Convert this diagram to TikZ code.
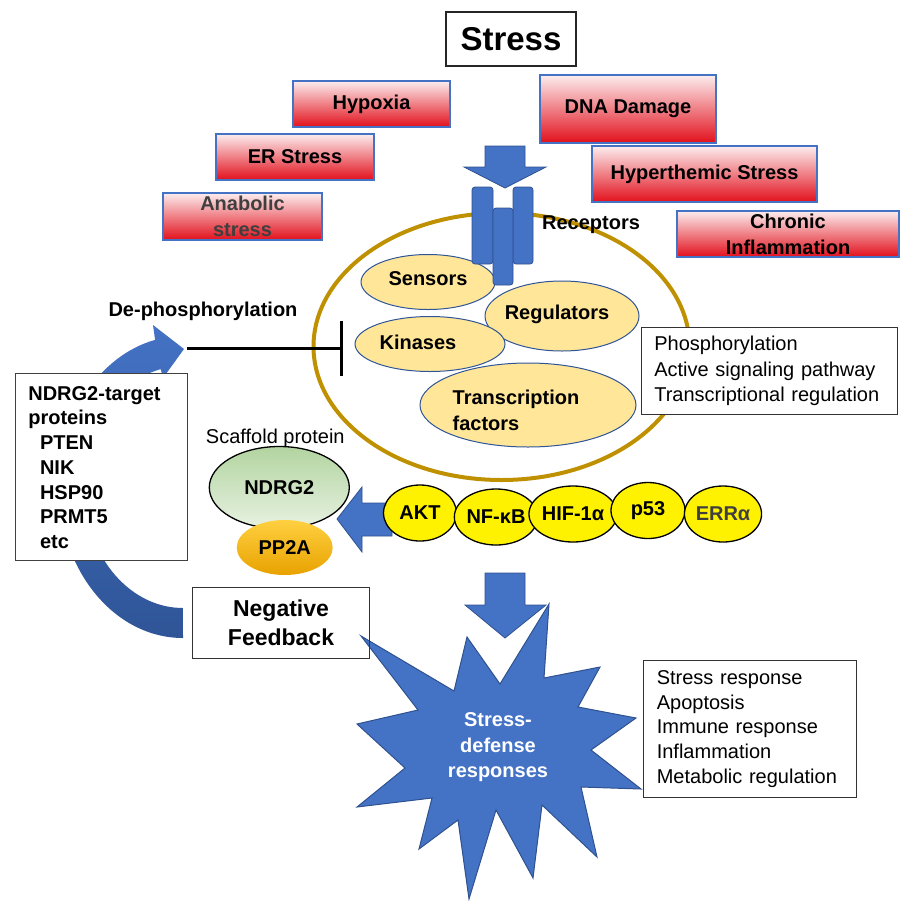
\documentclass[tikz,border=0pt]{standalone}
\usepackage{fontspec}
\setmainfont{Liberation Sans}
\usetikzlibrary{shapes.geometric,arrows.meta}
\definecolor{blueA}{HTML}{4472C4}
\definecolor{blueB}{HTML}{2F528F}
\definecolor{blueC}{HTML}{2F5597}
\definecolor{goldO}{HTML}{BF9000}
\definecolor{ellF}{HTML}{FFE699}
\definecolor{ellB}{HTML}{2F5597}
\definecolor{redT}{HTML}{FCEDEE}
\definecolor{redB}{HTML}{E2101C}
\definecolor{greyT}{HTML}{3F3F3F}
\definecolor{grnT}{HTML}{B2D4A0}
\definecolor{grnB}{HTML}{E8F2E2}
\definecolor{ppT}{HTML}{FFD040}
\definecolor{ppB}{HTML}{E8A200}
\begin{document}
\begin{tikzpicture}[x=1pt,y=-1pt,
  bf/.style={font=\fontsize{20}{24}\selectfont\bfseries},
  rg/.style={font=\fontsize{20}{24}\selectfont},
  redbox/.style={rectangle, draw=blueA, line width=1.2pt, top color=redT, bottom color=redB, inner sep=0pt, align=center, font=\fontsize{20}{26}\selectfont\bfseries},
  cellpart/.style={ellipse, draw=ellB, line width=1pt, fill=ellF, inner sep=0pt},
  yel/.style={ellipse, draw=black, line width=1.3pt, fill=yellow, inner sep=0pt, minimum width=74pt, minimum height=56pt, font=\fontsize{20}{24}\selectfont\bfseries},
  txtbox/.style={rectangle, draw=black!80, line width=1pt, fill=white, inner sep=0pt, align=left, font=\fontsize{20}{25.5}\selectfont},
  blockarrow/.style={fill=blueA, draw=blueB, line width=0.8pt},
  recbar/.style={rectangle, fill=blueA, draw=blueB, line width=0.8pt, rounded corners=3pt, inner sep=0pt},
]
\useasboundingbox (0,0) rectangle (901,900);

% title and stress sources
\node[draw=black!85, line width=1.2pt, minimum width=130pt, minimum height=54pt, inner sep=0pt, font=\fontsize{33}{36}\selectfont\bfseries] (stress) at (511,39) {Stress};
\node[redbox, minimum width=157pt, minimum height=46pt] (hyp) at (371.5,104) {Hypoxia};
\node[redbox, minimum width=158pt, minimum height=46pt] (ers) at (295,157) {ER Stress};
\node[redbox, minimum width=159pt, minimum height=47pt, text=greyT] (ana) at (242.5,216.5) {Anabolic\\stress};
\node[redbox, minimum width=176pt, minimum height=68pt] (dna) at (628,109) {DNA Damage};
\node[redbox, minimum width=225pt, minimum height=56pt] (hyt) at (704.5,174) {Hyperthemic Stress};
\node[redbox, minimum width=222pt, minimum height=46pt] (chr) at (788,234) {Chronic\\Inflammation};

% arrow into receptors
\draw[blockarrow] (485,146) -- (525,146) -- (525,167) -- (546,167) -- (505,188) -- (464,167) -- (485,167) -- cycle;

% cell
\node[ellipse, draw=goldO, line width=4pt, minimum width=376pt, minimum height=267pt, inner sep=0pt] (cell) at (501.5,346.5) {};
\node[cellpart, minimum width=134pt, minimum height=55pt] (sens) at (428,282) {};
\node[cellpart, minimum width=154pt, minimum height=70pt] (regu) at (562,316) {};
\node[cellpart, minimum width=150pt, minimum height=55pt] (kina) at (430,344) {};
\node[cellpart, minimum width=216pt, minimum height=84pt] (tfc) at (528,405) {};
\node[bf] (sensT) at (428,279) {Sensors};
\node[bf] (reguT) at (557,314) {Regulators};
\node[bf] (kinaT) at (418,342) {Kinases};
\node[align=left, font=\fontsize{20}{26}\selectfont\bfseries] (tfT) at (516,410) {Transcription\\factors};

% receptors
\node[recbar, minimum width=21pt, minimum height=77pt] (rec1) at (482.5,225.5) {};
\node[recbar, minimum width=20pt, minimum height=77pt] (rec3) at (523,225.5) {};
\node[recbar, minimum width=20pt, minimum height=77pt] (rec2) at (503,246.5) {};
\node[bf] (recT) at (591,225) {Receptors};

\node[txtbox, text width=229.4pt, inner xsep=13.3pt, minimum height=87pt] (phos) at (769,371) {Phosphorylation\\Active signaling pathway\\Transcriptional regulation};

% curved feedback arrow
\shade[top color=blueA, bottom color=blueC] (183,638) arc[start angle=90, end angle=257, x radius=124, y radius=151] -- (153,325) -- (184,349) -- (163,378) -- (160.7,369.1) arc[start angle=257, end angle=90, x radius=99, y radius=121] -- cycle;

\node[txtbox, draw=black!75, text width=145.7pt, inner xsep=13.3pt, minimum height=187pt, font=\fontsize{20}{24.75}\selectfont\bfseries] (tgt) at (101.2,467.4) {NDRG2-target\\proteins\\\hspace*{11.7pt}PTEN\\\hspace*{11.7pt}NIK\\\hspace*{11.7pt}HSP90\\\hspace*{11.7pt}PRMT5\\\hspace*{11.7pt}etc};

% inhibition
\coordinate (inhA) at (187,348);
\coordinate (inhB) at (343,348);
\draw[line width=3pt, -{Bar[width=55pt, line width=3pt]}] (inhA) -- (inhB);
\node[bf] (deph) at (203,311.7) {De-phosphorylation};

% scaffold
\node[rg] (scaf) at (275.3,438.3) {Scaffold protein};
\node[ellipse, draw=black, line width=1.3pt, top color=grnT, bottom color=grnB, minimum width=140pt, minimum height=82pt, inner sep=0pt, bf] (ndrg) at (279.3,487.5) {NDRG2};
\node[ellipse, top color=ppT, bottom color=ppB, minimum width=96pt, minimum height=55pt, inner sep=0pt, bf] (pp2a) at (284.7,547.5) {PP2A};

\draw[blockarrow] (392,503) -- (362,503) -- (362,487) -- (337,519) -- (362,552) -- (362,536) -- (392,536) -- cycle;

\node[yel, minimum width=73pt] (akt) at (420,513) {AKT};
\node[yel] (nfkb) at (496,517) {NF-κB};
\node[yel] (hif) at (573,514) {HIF-1α};
\node[yel] (p53) at (648,510.5) {p53};
\node[yel, text=greyT] (erra) at (723,514) {ERRα};

% response
\draw[blockarrow] (485,573) -- (525,573) -- (525,605) -- (546,605) -- (505,638) -- (465,605) -- (485,605) -- cycle;
\draw[fill=blueA, draw=blueB, line width=1pt] (549,604) -- (544,678) -- (600,667) -- (578,707) -- (636,718) -- (591,750) -- (641,789) -- (581,787) -- (597,857) -- (542,805) -- (533,878) -- (496,810) -- (469,899) -- (458,820) -- (419,849) -- (432,798) -- (357,807) -- (405,768) -- (357,724) -- (418,710) -- (361,636) -- (454,691) -- (467,637) -- (500,684) -- cycle;
\node[font=\fontsize{20}{25.5}\selectfont\bfseries, text=white, align=center] (starT) at (498,747.5) {Stress-\\defense\\responses};

\node[draw=black!80, line width=1pt, minimum width=176.6pt, minimum height=71pt, inner sep=0pt, align=center, font=\fontsize{23}{29}\selectfont\bfseries] (nfb) at (281,622.8) {Negative\\Feedback};

\node[txtbox, text width=186.4pt, inner xsep=13.6pt, minimum height=136.6pt, font=\fontsize{20}{24.75}\selectfont] (resp) at (750,729) {Stress response\\Apoptosis\\Immune response\\Inflammation\\Metabolic regulation};
\end{tikzpicture}
\end{document}
